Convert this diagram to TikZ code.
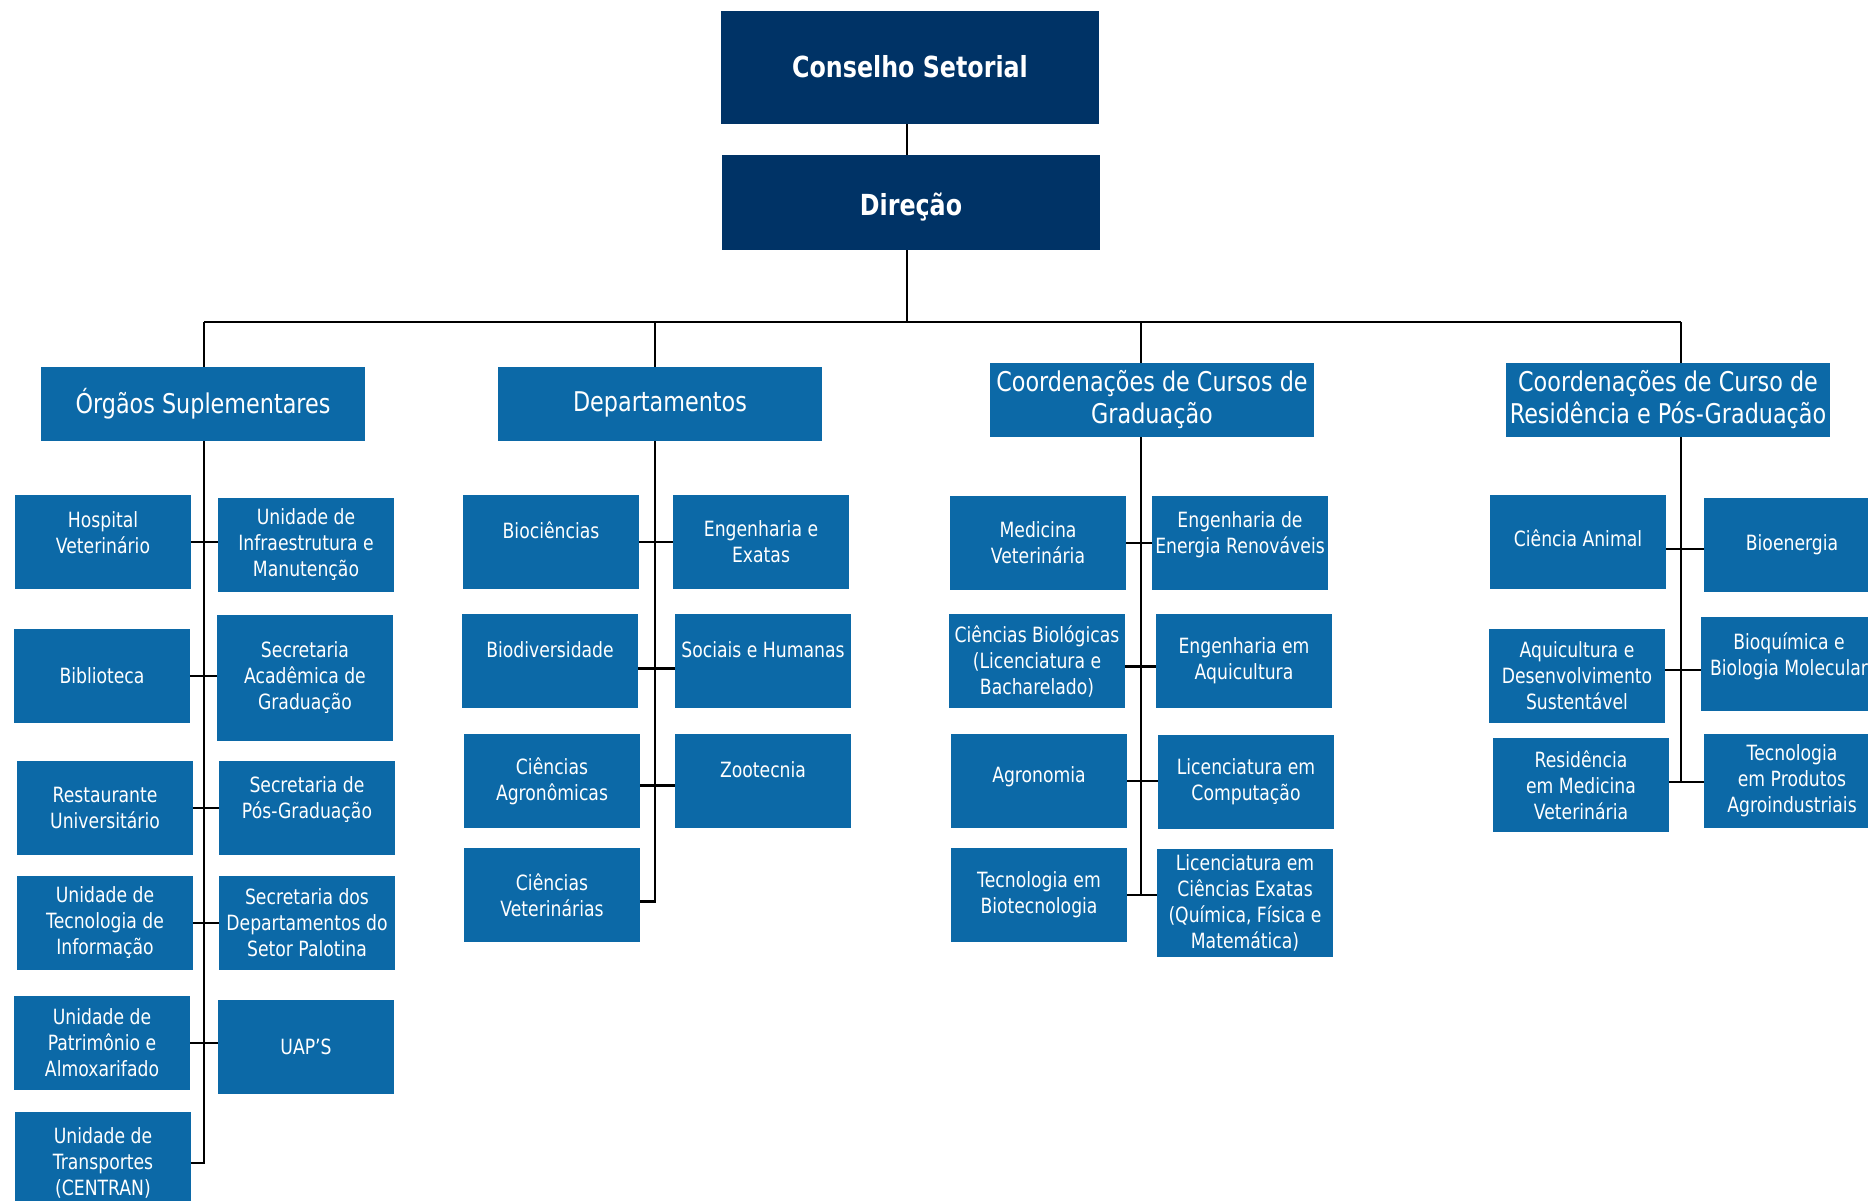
\documentclass[tikz,border=0pt]{standalone}
\usepackage{fontspec}
\setmainfont{DejaVu Sans}[FakeStretch=0.82]
\usetikzlibrary{backgrounds}
\definecolor{navy}{HTML}{003366}
\definecolor{ufblue}{HTML}{0C69A7}

\begin{document}
\begin{tikzpicture}[
  x=0.5pt, y=-0.5pt,
  chief/.style={fill=navy, text=white, inner sep=1pt, minimum width=189pt, font=\bfseries\fontsize{14.5}{16}\selectfont},
  head/.style={fill=ufblue, text=white, align=center, inner sep=1pt, minimum width=162pt, minimum height=37pt, font=\fontsize{13.6}{16}\selectfont},
  unitbox/.style={fill=ufblue, text=white, align=center, inner sep=1pt, minimum width=88pt, minimum height=47pt, font=\fontsize{10.5}{13}\selectfont},
  lift/.style={text depth=#1},
  sink/.style={text height=#1},
  link/.style={draw=black, line width=1.3pt}
]
\clip (0,0) rectangle (1868,1200);
\useasboundingbox (0,0) rectangle (1868,1200);

\node[chief, minimum height=56.5pt] (cons) at (910,67) {Conselho Setorial};
\node[chief, minimum height=47.5pt, sink=16pt] (dir) at (911,202) {Direção};

\coordinate (b0) at (907,322);
\coordinate (b1) at (204,322);
\coordinate (b2) at (655,322);
\coordinate (b3) at (1141,322);
\coordinate (b4) at (1681,322);

\node[head] (org) at (203,404) {Órgãos Suplementares};
\node[head] (dep) at (660,404) {Departamentos};
\node[head] (cgr) at (1152,400) {Coordenações de Cursos de\\Graduação};
\node[head] (cpg) at (1668,400) {Coordenações de Curso de\\Residência e Pós-Graduação};

% orgaos suplementares
\node[unitbox, lift=9pt] (hv) at (103,542) {Hospital\\Veterinário};
\node[unitbox] (bib) at (102,676) {Biblioteca};
\node[unitbox] (ru) at (105,808) {Restaurante\\Universitário};
\node[unitbox] (uti) at (105,923) {Unidade de\\Tecnologia de\\Informação};
\node[unitbox] (upa) at (102,1043) {Unidade de\\Patrimônio e\\Almoxarifado};
\node[unitbox, minimum height=51pt] (utr) at (103,1163) {Unidade de\\Transportes\\(CENTRAN)};
\node[unitbox] (uim) at (306,545) {Unidade de\\Infraestrutura e\\Manutenção};
\node[unitbox, minimum height=63pt] (sag) at (305,678) {Secretaria\\Acadêmica de\\Graduação};
\node[unitbox, lift=10pt] (spg) at (307,808) {Secretaria de\\Pós-Graduação};
\node[unitbox] (sdp) at (307,923) {Secretaria dos\\Departamentos do\\Setor Palotina};
\node[unitbox] (uap) at (306,1047) {UAP’S};

% departamentos
\node[unitbox, lift=12pt] (bio) at (551,542) {Biociências};
\node[unitbox, lift=11pt] (bdv) at (550,661) {Biodiversidade};
\node[unitbox] (cag) at (552,781) {Ciências\\Agronômicas};
\node[unitbox] (cvt) at (552,895) {Ciências\\Veterinárias};
\node[unitbox] (eex) at (761,542) {Engenharia e\\Exatas};
\node[unitbox, lift=11pt] (soc) at (763,661) {Sociais e Humanas};
\node[unitbox, lift=11pt] (zoo) at (763,781) {Zootecnia};

% cursos de graduacao
\node[unitbox] (mvt) at (1038,543) {Medicina\\Veterinária};
\node[unitbox] (cbi) at (1037,661) {Ciências Biológicas\\(Licenciatura e\\Bacharelado)};
\node[unitbox, lift=6pt] (agr) at (1039,781) {Agronomia};
\node[unitbox] (tbi) at (1039,895) {Tecnologia em\\Biotecnologia};
\node[unitbox, lift=10pt] (eer) at (1240,543) {Engenharia de\\Energia Renováveis};
\node[unitbox] (eaq) at (1244,661) {Engenharia em\\Aquicultura};
\node[unitbox] (lco) at (1246,782) {Licenciatura em\\Computação};
\node[unitbox, minimum height=54pt] (lce) at (1245,903) {Licenciatura em\\Ciências Exatas\\(Química, Física e\\Matemática)};

% residencia e pos-graduacao
\node[unitbox, lift=4pt] (can) at (1578,542) {Ciência Animal};
\node[unitbox] (aqd) at (1577,676) {Aquicultura e\\Desenvolvimento\\Sustentável};
\node[unitbox] (rmv) at (1581,785) {Residência\\em Medicina\\Veterinária};
\node[unitbox] (bie) at (1792,545) {Bioenergia};
\node[unitbox, lift=10pt] (bqm) at (1789,664) {Bioquímica e\\Biologia Molecular};
\node[unitbox] (tpa) at (1792,781) {Tecnologia\\em Produtos\\Agroindustriais};

\begin{scope}[on background layer]
\draw[link] (b0 |- cons.south) -- (b0);
\draw[link] (b1) -- (b4);
% spines
\draw[link] (b1) |- (utr.east);
\draw[link] (b2) |- ([yshift=-3.25pt]cvt.east);
\draw[link] (b3) |- (tbi.east);
\draw[link] (b4) |- ([yshift=1.5pt]rmv.east);
% pairs
\draw[link] (hv.east) -- (hv.east -| uim.west);
\draw[link] (bib.east) -- (bib.east -| sag.west);
\draw[link] (ru.east) -- (ru.east -| spg.west);
\draw[link] (uti.east) -- (uti.east -| sdp.west);
\draw[link] (upa.east) -- (upa.east -| uap.west);
\draw[link] (bio.east) -- (bio.east -| eex.west);
\draw[link] ([yshift=-3.75pt]bdv.east) -- ([yshift=-3.75pt]bdv.east -| soc.west);
\draw[link] ([yshift=-2.25pt]cag.east) -- ([yshift=-2.25pt]cag.east -| zoo.west);
\draw[link] (mvt.east) -- (mvt.east -| eer.west);
\draw[link] ([yshift=-2.75pt]cbi.east) -- ([yshift=-2.75pt]cbi.east -| eaq.west);
\draw[link] (agr.east) -- (agr.east -| lco.west);
\draw[link] (tbi.east) -- (tbi.east -| lce.west);
\draw[link] ([yshift=-3.5pt]can.east) -- ([yshift=-3.5pt]can.east -| bie.west);
\draw[link] ([yshift=3pt]aqd.east) -- ([yshift=3pt]aqd.east -| bqm.west);
\draw[link] ([yshift=1.5pt]rmv.east) -- ([yshift=1.5pt]rmv.east -| tpa.west);
\end{scope}
\end{tikzpicture}
\end{document}
